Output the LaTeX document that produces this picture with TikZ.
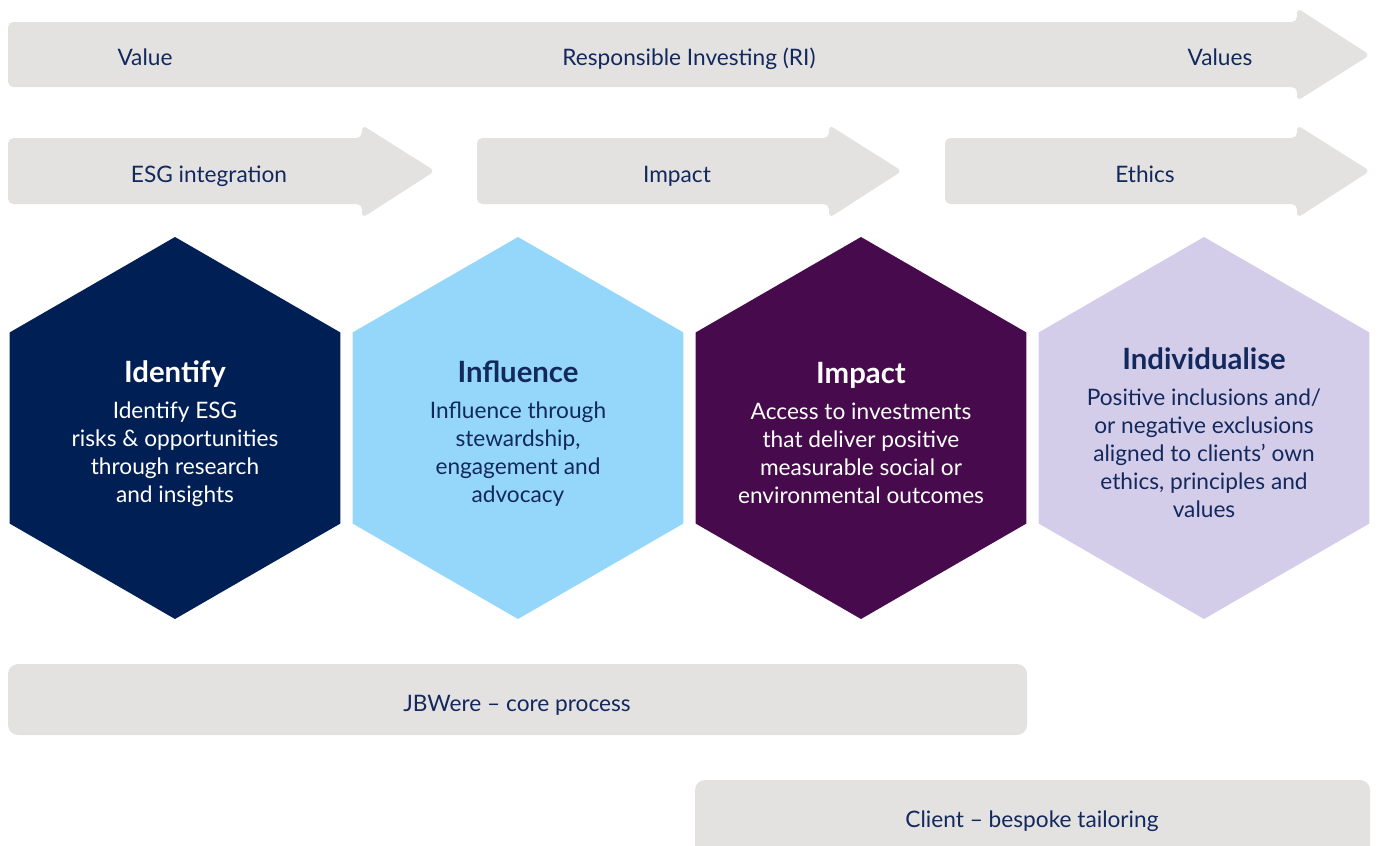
\documentclass[tikz,border=0pt]{standalone}
\usepackage{fontspec}
\setmainfont{Lato}
\usetikzlibrary{shapes.geometric}
\definecolor{boxgrey}{HTML}{E3E2E1}
\definecolor{inknavy}{HTML}{13295E}
\definecolor{hexnavy}{HTML}{001F55}
\definecolor{hexsky}{HTML}{94D7FA}
\definecolor{hexplum}{HTML}{460A4D}
\definecolor{hexlilac}{HTML}{D3CDEA}
\newcommand{\hexhead}{\fontsize{22}{21}\selectfont\bfseries}

\begin{document}
\begin{tikzpicture}[x=0.75pt, y=-0.75pt,
  hexa/.style={regular polygon, regular polygon sides=6, regular polygon rotate=30, minimum size=286.5pt, inner sep=0pt},
  band/.style={fill=boxgrey, rounded corners=7.5pt},
  lbl/.style={text=inknavy, font=\fontsize{17}{20}\selectfont, text height=12pt, text depth=0pt},
  hextxt/.style={align=center, font=\fontsize{17}{21}\selectfont}]

\useasboundingbox (0,0) rectangle (1378,846);

% Frecce in alto
\fill[boxgrey, rounded corners=4pt] (8,22) -- (1297,22) -- (1297,8) -- (1370,55) -- (1297,101) -- (1297,87) -- (8,87) -- cycle;
\foreach \xa/\xb in {8/362, 477/829, 945/1297}
  \fill[boxgrey, rounded corners=4pt] (\xa,138) -- (\xb,138) -- (\xb,125) -- ({\xb+73},171) -- (\xb,218) -- (\xb,204) -- (\xa,204) -- cycle;

\node[lbl] (value) at (145,57) {Value};
\node[lbl] (ri) at (689,57) {Responsible Investing (RI)};
\node[lbl] (values) at (1220,57) {Values};
\node[lbl] (esg) at (209,174) {ESG integration};
\node[lbl] (impactArr) at (677,174) {Impact};
\node[lbl] (ethics) at (1145,174) {Ethics};

% Esagoni
\node[hexa, fill=hexnavy] (identify) at (175,428) {};
\node[hexa, fill=hexsky] (influence) at (518,428) {};
\node[hexa, fill=hexplum] (impact) at (861,428) {};
\node[hexa, fill=hexlilac] (individ) at (1204,428) {};

\node[hextxt, text=white] (identifyTxt) at (175,434)
  {{\hexhead Identify}\\[6pt]Identify ESG\\risks \& opportunities\\through research\\and insights};
\node[hextxt, text=inknavy] (influenceTxt) at (518,434)
  {{\hexhead Influence}\\[6pt]Influence through\\stewardship,\\engagement and\\advocacy};
\node[hextxt, text=white] (impactTxt) at (861,433)
  {{\hexhead Impact}\\[6pt]Access to investments\\that deliver positive\\measurable social or\\environmental outcomes};
\node[hextxt, text=inknavy] (individTxt) at (1204,433)
  {{\hexhead Individualise}\\[6pt]Positive inclusions and/\\or negative exclusions\\aligned to clients’ own\\ethics, principles and\\values};

% Barre in basso
\fill[band] (8,664) rectangle (1027,735);
\node[lbl] (core) at (517,703) {JBWere – core process};
\fill[band] (695,780) rectangle (1370,862);
\node[lbl] (bespoke) at (1032,819) {Client – bespoke tailoring};

\end{tikzpicture}
\end{document}
